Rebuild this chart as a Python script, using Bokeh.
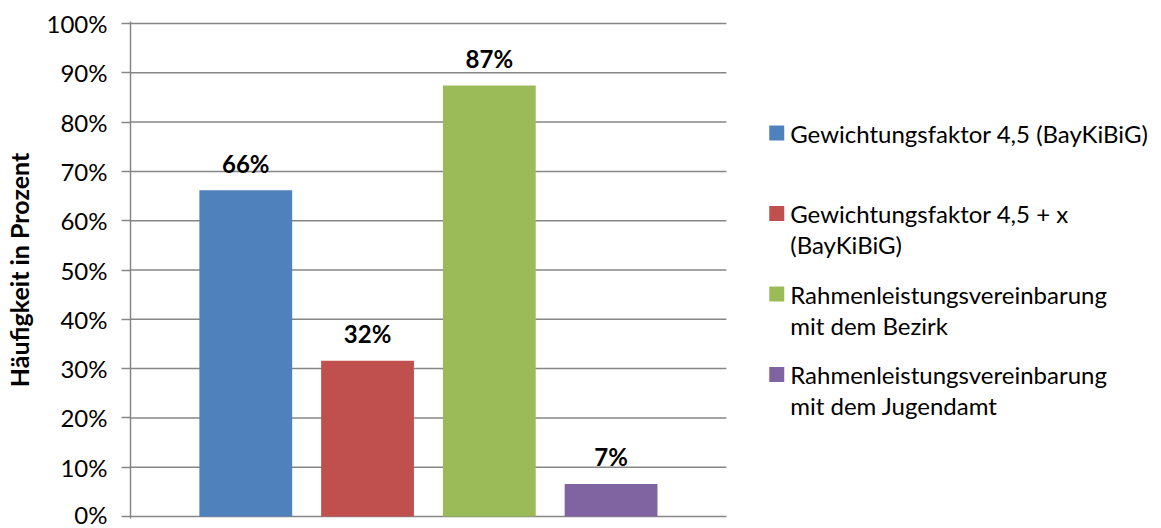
from bokeh.plotting import figure
from bokeh.models import Range1d, FixedTicker, PrintfTickFormatter, ColumnDataSource
from bokeh.embed import file_html
from bokeh.resources import INLINE
from bokeh.core.properties import value

# ---- data ----
series = [
    "Gewichtungsfaktor 4,5 (BayKiBiG)",
    "Gewichtungsfaktor 4,5 + x\n(BayKiBiG)",
    "Rahmenleistungsvereinbarung\nmit dem Bezirk",
    "Rahmenleistungsvereinbarung\nmit dem Jugendamt",
]
values = [66.2, 31.6, 87.4, 6.6]
colors = ["#4F81BD", "#C0504D", "#9BBB59", "#8064A2"]
yticks = [0, 10, 20, 30, 40, 50, 60, 70, 80, 90, 100]
y_label = "Häufigkeit in Prozent"

# ---- layout constants (pixels) ----
FONT = "Lato"
GRID = "#868686"
W, H = 1161, 528
LEFT, TOP, BOTTOM = 128, 21, 10        # frame borders
CHART_W = 597                          # width of the bar area
SLOT = 122                             # pixels per bar slot
YPAD = 0.4
FRAME_H = H - TOP - BOTTOM
PPU = FRAME_H / (100 + 2 * YPAD)       # pixels per percent

n = len(values)
xs = list(range(1, n + 1))
x_mid = (1 + n) / 2
x_start = x_mid - CHART_W / 2 / SLOT
x_chart_end = x_mid + CHART_W / 2 / SLOT
x_end = x_start + (W - LEFT) / SLOT


def dx(px):  # screen x -> data x
    return x_start + (px - LEFT) / SLOT


def dy(py):  # screen y -> data y
    return 100 + YPAD - (py - TOP) / PPU


p = figure(width=W, height=H, output_backend="svg", toolbar_location=None,
           x_range=Range1d(x_start, x_end),
           y_range=Range1d(-YPAD, 100 + YPAD),
           min_border_left=LEFT, min_border_right=0, min_border_top=TOP,
           min_border_bottom=BOTTOM)
p.outline_line_color = None
p.xaxis.visible = False
p.xgrid.visible = False
p.ygrid.visible = False

# grid lines across the bar area only
p.segment(x0=[x_start] * len(yticks), x1=[x_chart_end] * len(yticks),
          y0=yticks, y1=yticks, line_color=GRID, line_width=1.5)

src = ColumnDataSource(dict(
    x=xs, top=values, color=colors,
    lbl=[f"{round(v)}%" for v in values],
))
p.vbar(x="x", top="top", bottom=0, width=93 / SLOT, color="color",
       line_color=None, source=src)
p.text(x="x", y="top", text="lbl", source=src, text_align="center",
       text_baseline="alphabetic", y_offset=-27, text_font=value(FONT),
       text_font_style="bold", text_font_size="24px", text_color="black")

ya = p.yaxis[0]
ya.ticker = FixedTicker(ticks=yticks)
ya.formatter = PrintfTickFormatter(format="%d%%")
ya.major_label_text_font = FONT
ya.major_label_text_font_size = "24px"
ya.major_label_text_color = "black"
ya.major_label_standoff = 14
ya.major_tick_out = 9
ya.major_tick_in = 0
ya.major_tick_line_color = GRID
ya.major_tick_line_width = 1.5
ya.minor_tick_line_color = None
ya.axis_line_color = GRID
ya.axis_line_width = 1.5
ya.axis_label = y_label
ya.axis_label_text_font = FONT
ya.axis_label_text_font_style = "bold"
ya.axis_label_text_font_size = "25px"
ya.axis_label_text_color = "black"
ya.axis_label_standoff = 10

# ---- legend ----
ENTRY_Y0, ENTRY_DY, LINE_DY = 132.5, 80.5, 31
SQ_X, TEXT_X = 775.5, 789
sq_x, sq_y, tx, ty, tt = [], [], [], [], []
for k, name in enumerate(series):
    y0 = ENTRY_Y0 + ENTRY_DY * k
    sq_x.append(dx(SQ_X))
    sq_y.append(dy(y0))
    for j, line in enumerate(name.split("\n")):
        tx.append(dx(TEXT_X))
        ty.append(dy(y0 + LINE_DY * j))
        tt.append(line)

p.scatter(x=sq_x, y=sq_y, marker="square", size=15, color=colors, line_color=None)
p.text(x=tx, y=ty, text=tt, text_align="left", text_baseline="middle",
       text_font=value(FONT), text_font_size="24px", text_color="black")

open("out.html", "w").write(file_html(p, INLINE))
